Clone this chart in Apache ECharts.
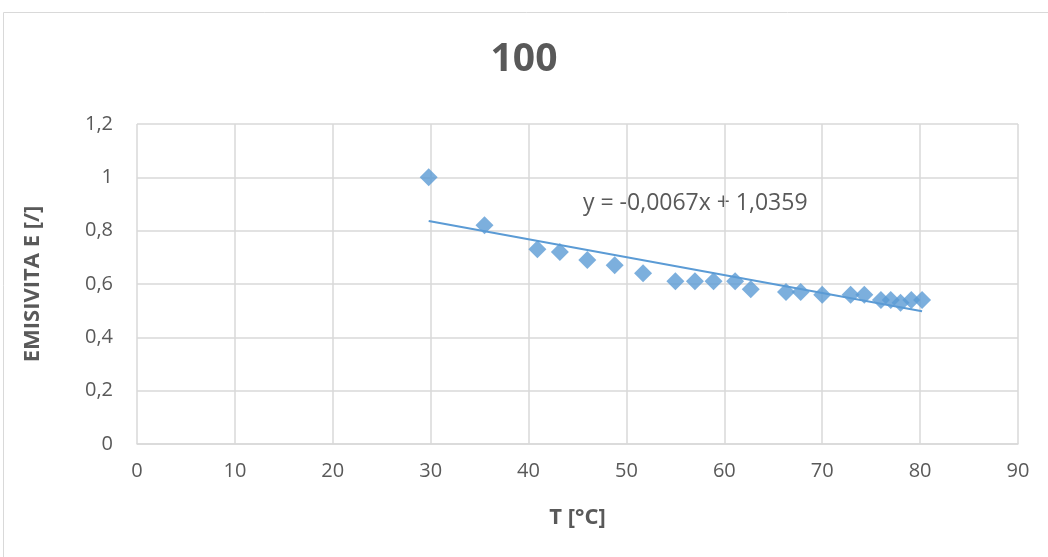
<!DOCTYPE html>
<html>
<head>
<meta charset="utf-8">
<script src="https://cdn.jsdelivr.net/npm/echarts@6/dist/echarts.min.js"></script>
<style>
    html, body { margin: 0; padding: 0; background: #fff; }
    #chart { width: 1048px; height: 557px; }
</style>
</head>
<body>
<div id="chart"></div>
<script>
// teplota [°C]
const teplota = [29.8, 35.5, 40.9, 43.2, 46.0, 48.8, 51.7, 55.0, 57.0, 58.9, 61.1, 62.7,
    66.3, 67.8, 70.0, 72.9, 74.3, 76.0, 77.0, 78.0, 79.1, 80.2]
// emisivita E [/]
const emisivita = [1.00, 0.82, 0.73, 0.72, 0.69, 0.67, 0.64, 0.61, 0.61, 0.61, 0.61, 0.58,
    0.57, 0.57, 0.56, 0.56, 0.56, 0.54, 0.54, 0.53, 0.54, 0.54]
// linearni trend, koncove body
const trendX = [29.8, 80.2]
const trendY = [0.836, 0.498]
const rovnice = 'y = -0,0067x + 1,0359'

const bodyData = teplota.map((t, i) => [t, emisivita[i]])
const trendData = trendX.map((t, i) => [t, trendY[i]])

const myChart = echarts.init(document.getElementById('chart'))
const sedaText = '#595959'
const mrizka = '#d9d9d9'
const modra = '#5b9bd5'

myChart.setOption({
    animation: false,
    title: {
        text: '100',
        left: 'center',
        top: 35,
        textStyle: { fontFamily: 'Open Sans', fontSize: 39, fontWeight: 'bold', color: sedaText }
    },
    grid: { left: 137, right: 30, top: 124, bottom: 113 },
    xAxis: {
        type: 'value',
        min: 0,
        max: 90,
        interval: 10,
        name: 'T [°C]',
        nameLocation: 'middle',
        nameGap: 63,
        nameTextStyle: { fontFamily: 'Open Sans', fontSize: 22, fontWeight: 'bold', color: sedaText },
        axisLine: { show: true, lineStyle: { color: mrizka, width: 1.5 } },
        axisTick: { show: false },
        axisLabel: { margin: 17, fontFamily: 'Open Sans', fontSize: 20, color: sedaText },
        splitLine: { show: true, lineStyle: { color: mrizka, width: 1.5 } }
    },
    yAxis: {
        type: 'value',
        min: 0,
        max: 1.2,
        interval: 0.2,
        name: 'EMISIVITA E [/]',
        nameLocation: 'middle',
        nameRotate: 90,
        nameGap: 93,
        nameTextStyle: { fontFamily: 'Open Sans', fontSize: 22, fontWeight: 'bold', color: sedaText },
        axisLine: { show: false },
        axisTick: { show: false },
        axisLabel: {
            margin: 24,
            fontFamily: 'Open Sans',
            fontSize: 20,
            color: sedaText,
            formatter: v => String(+v.toFixed(1)).replace('.', ',')
        },
        splitLine: { show: true, lineStyle: { color: mrizka, width: 1.5 } }
    },
    series: [
        {
            type: 'line',
            data: trendData,
            showSymbol: false,
            symbol: 'none',
            lineStyle: { color: modra, width: 2 },
            z: 1
        },
        {
            type: 'scatter',
            data: bodyData,
            symbol: 'diamond',
            symbolSize: [18, 18],
            itemStyle: { color: modra },
            z: 2
        }
    ],
    graphic: [
        {
            type: 'rect',
            shape: { x: 3.5, y: 12.5, width: 1100, height: 600 },
            style: { fill: 'none', stroke: mrizka, lineWidth: 1 },
            z: -10
        },
        {
            type: 'text',
            left: 583,
            top: 192,
            style: { text: rovnice, fontFamily: 'Open Sans', fontSize: 23, fill: sedaText }
        }
    ]
})
</script>
</body>
</html>
